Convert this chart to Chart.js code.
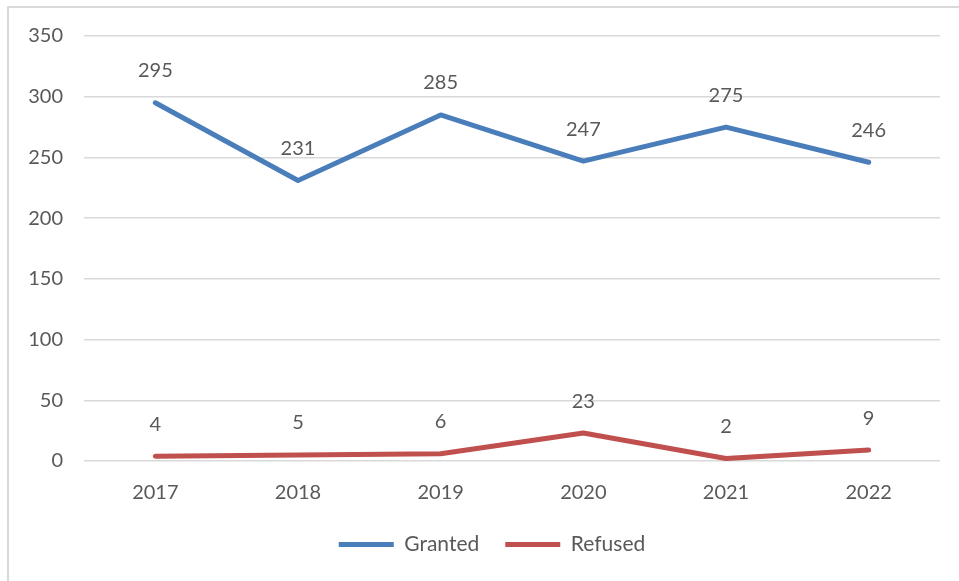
<!DOCTYPE html>
<html>
<head>
<meta charset="utf-8">
<script src="https://cdn.jsdelivr.net/npm/chart.js@4/dist/chart.umd.min.js"></script>
<style>
html,body{margin:0;padding:0;background:#fff;}
#wrap{position:relative;width:959px;height:581px;}
</style>
</head>
<body>
<div id="wrap"><canvas id="c" width="959" height="581"></canvas></div>
<script>
const categories = ['2017','2018','2019','2020','2021','2022'];
const granted = [295, 231, 285, 247, 275, 246];
const refused = [4, 5, 6, 23, 2, 9];
const yTicks = [0, 50, 100, 150, 200, 250, 300, 350];

const FONT = 'Lato, "Open Sans", sans-serif';
const TXT = '#595959';

const borderPlugin = {
  id: 'frame',
  beforeDraw(chart) {
    const ctx = chart.ctx;
    ctx.save();
    ctx.fillStyle = '#fff';
    ctx.fillRect(0, 0, chart.width, chart.height);
    ctx.strokeStyle = '#d9d9d9';
    ctx.lineWidth = 2;
    ctx.strokeRect(8, 7, 1000, 1000);
    ctx.restore();
  }
};

const legendShift = {
  id: 'legendShift',
  afterLayout(chart) {
    const lg = chart.legend;
    if (lg) { lg.left += 22; lg.right += 22; }
  }
};

const labelPlugin = {
  id: 'vals',
  afterDatasetsDraw(chart) {
    const ctx = chart.ctx;
    ctx.save();
    ctx.font = '20px ' + FONT;
    ctx.fillStyle = TXT;
    ctx.textAlign = 'center';
    ctx.textBaseline = 'middle';
    chart.data.datasets.forEach((ds, i) => {
      const meta = chart.getDatasetMeta(i);
      meta.data.forEach((pt, j) => {
        ctx.fillText(String(ds.data[j]), pt.x, pt.y - 32);
      });
    });
    ctx.restore();
  }
};

new Chart(document.getElementById('c'), {
  type: 'line',
  data: {
    labels: categories,
    datasets: [
      { label: 'Granted', data: granted, borderColor: '#4a7ebb', backgroundColor: '#4a7ebb',
        borderWidth: 5, borderCapStyle: 'round', borderJoinStyle: 'round', pointRadius: 0, tension: 0 },
      { label: 'Refused', data: refused, borderColor: '#c0504d', backgroundColor: '#c0504d',
        borderWidth: 5, borderCapStyle: 'round', borderJoinStyle: 'round', pointRadius: 0, tension: 0 }
    ]
  },
  options: {
    responsive: false,
    animation: false,
    devicePixelRatio: 1,
    layout: { padding: { left: 0, right: 19, top: 36, bottom: 16 } },
    plugins: {
      legend: {
        position: 'bottom',
        labels: {
          usePointStyle: true,
          pointStyle: 'line',
          pointStyleWidth: 55,
          boxHeight: 20,
          boxWidth: 45,
          padding: 26,
          color: TXT,
          font: { family: FONT, size: 21 }
        }
      },
      tooltip: { enabled: false }
    },
    scales: {
      x: {
        offset: true,
        afterFit(s) { s.height -= 17; },
        grid: { display: false, drawTicks: false },
        border: { display: false },
        ticks: { color: TXT, font: { family: FONT, size: 20 }, padding: 20, maxRotation: 0 }
      },
      y: {
        min: 0, max: 350,
        afterFit(s) { s.width = 84; },
        afterBuildTicks(s) { s.ticks = yTicks.map(v => ({ value: v })); },
        grid: { color: '#d9d9d9', lineWidth: 1.5, drawTicks: false },
        border: { display: false },
        ticks: { color: TXT, font: { family: FONT, size: 20 }, padding: 21 }
      }
    }
  },
  plugins: [borderPlugin, legendShift, labelPlugin]
});
</script>
</body>
</html>
